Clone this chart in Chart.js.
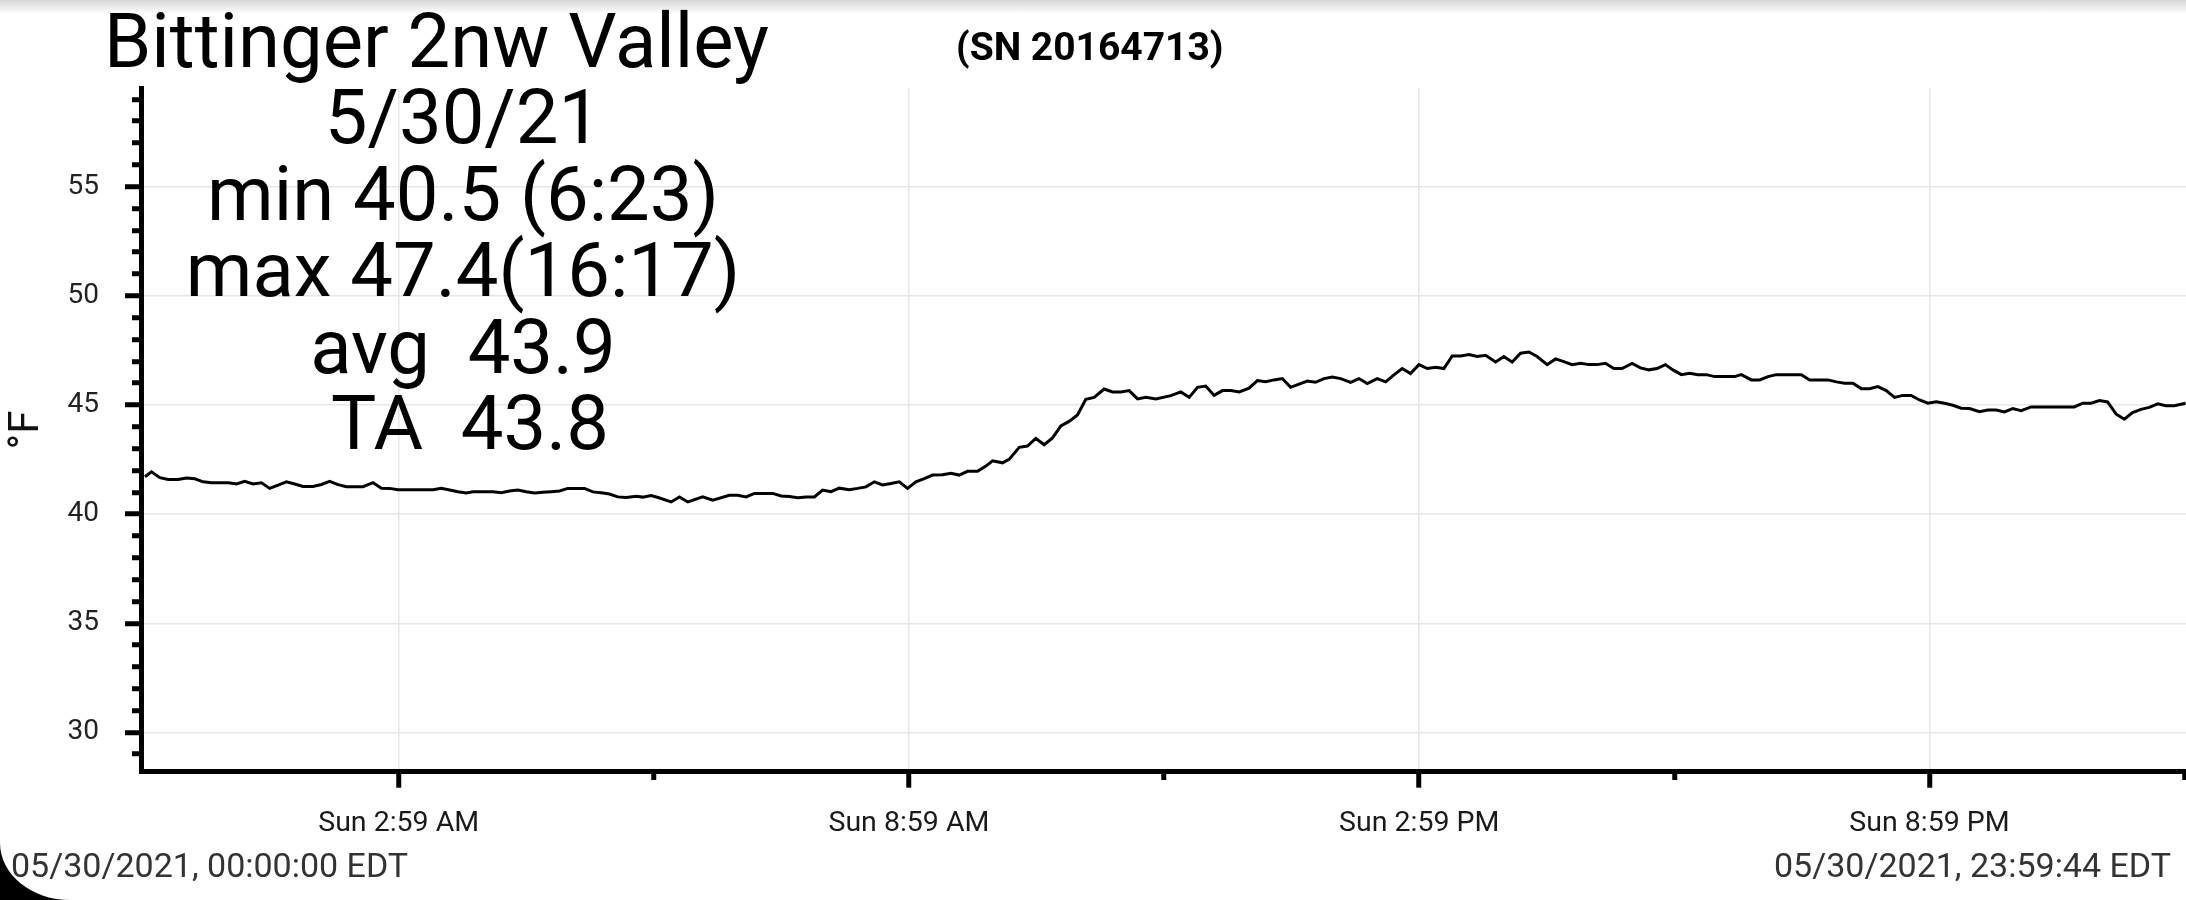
<!DOCTYPE html>
<html>
<head>
<meta charset="utf-8">
<script src="https://cdn.jsdelivr.net/npm/chart.js@4.4.1/dist/chart.umd.min.js"></script>
<style>
  html, body { margin: 0; padding: 0; background: #fff; }
  body { width: 2186px; height: 900px; position: relative; overflow: hidden; font-family: Roboto, sans-serif; }
  #chartId { position: absolute; left: 0; top: 0; }
  .txt { position: absolute; white-space: pre; line-height: 1; color: #000; }
  #title { left: 104px; top: 3px; font-size: 76px; }
  #serial { left: 956px; top: 28px; font-size: 39px; font-weight: 700; }
  #stats { left: 163px; top: 79px; width: 600px; text-align: center; font-size: 76px; line-height: 76.6px; }
  .stamp { top: 848px; font-size: 34px; color: #333; }
  #shade { position: absolute; left: 0; top: 0; width: 100%; height: 14px;
    background: linear-gradient(to bottom, #d6d6d6, rgba(255,255,255,0)); }
  #corner { position: absolute; left: 0; bottom: 0; width: 70px; height: 57px; background: #000; }
  #corner div { width: 100%; height: 100%; background: #fff; border-bottom-left-radius: 70px 57px; }
</style>
</head>
<body>
<canvas id="chartId" width="2186" height="900"></canvas>
<div id="corner"><div></div></div>
<div id="shade"></div>
<div class="txt" id="title">Bittinger 2nw Valley</div>
<div class="txt" id="serial">(SN 20164713)</div>
<div class="txt" id="stats">5/30/21
min 40.5 (6:23)
max 47.4(16:17)
avg  43.9
<span style="padding-left:14px">TA  43.8</span></div>
<div class="txt stamp" style="left:11px">05/30/2021, 00:00:00 EDT</div>
<div class="txt stamp" style="right:15px">05/30/2021, 23:59:44 EDT</div>
<script>
// minutes after midnight, 05/30/2021
const minutes = [0, 4.6, 10.5, 16.4, 23.4, 29.3, 35.2, 41, 47, 58.7,
  64.6, 70.4, 76.3, 82.2, 88, 93.9, 99.8, 105.7, 111.5, 118.6,
  124.5, 130.3, 136.2, 142.1, 153.8, 160.9, 166.8, 172.6, 178.5, 203.2,
  209.1, 215, 220.8, 226.7, 231.4, 245.5, 251.4, 257.2, 263.1, 269,
  274.9, 280.7, 286.6, 292.5, 298.3, 310.1, 316, 321.9, 327.7, 333.6,
  339.5, 346.6, 351.2, 357.1, 362, 371.2, 377.1, 383, 393.5, 400.6,
  412.3, 418.2, 424.1, 430, 442.9, 448.8, 454.6, 460.5, 466.4, 472.3,
  478.1, 484, 489.9, 496.9, 502.8, 508.7, 514.6, 520.4, 526.3, 532.2,
  538, 543.9, 549.8, 555.7, 562.7, 568.6, 574.5, 580.3, 587.4, 593.3,
  598, 605, 609.7, 616.8, 622.6, 628.5, 634.4, 640.3, 646.2, 652,
  657.9, 663.8, 669.7, 676.7, 682.6, 688.5, 694.4, 700.3, 706.2, 713.2,
  723.8, 730.8, 736.7, 742.6, 748.4, 754.3, 760.2, 766.1, 772, 779,
  784.8, 790.7, 796.6, 802.4, 808.3, 814.2, 820.1, 825.9, 831.8, 837.7,
  843.6, 850.6, 856.5, 862.3, 869.4, 875.3, 881.2, 887, 892.9, 898.8,
  904.7, 910.6, 916.4, 922.3, 928.2, 934.1, 939.9, 945.8, 952.9, 958.7,
  964.6, 970.5, 976.4, 982.2, 989.3, 995.2, 1001, 1006.9, 1012.8, 1018.7,
  1024.5, 1030.4, 1036.3, 1042.1, 1049.2, 1055.1, 1061, 1066.8, 1072.7, 1078,
  1084, 1089.8, 1095.7, 1101.6, 1107.4, 1121.5, 1126.3, 1133.3, 1139.2, 1145.1,
  1151, 1168.6, 1174.5, 1187.4, 1193.3, 1199.1, 1205, 1210.9, 1216.7, 1222.6,
  1228.5, 1234.4, 1240.2, 1246.1, 1252, 1257.9, 1263.8, 1269.6, 1275.5, 1281.4,
  1287.3, 1294.3, 1300.2, 1306.1, 1312, 1317.8, 1323.7, 1330.7, 1361.2, 1367.1,
  1373, 1378.9, 1384.7, 1390.6, 1396.5, 1402.3, 1408.2, 1414.1, 1420, 1425.8,
  1431.7, 1439.7];

const tempF = [41.71, 41.94, 41.67, 41.59, 41.59, 41.65, 41.62, 41.48, 41.44, 41.44,
  41.38, 41.50, 41.38, 41.44, 41.18, 41.33, 41.48, 41.38, 41.27, 41.27,
  41.36, 41.50, 41.35, 41.26, 41.26, 41.44, 41.19, 41.18, 41.12, 41.12,
  41.19, 41.11, 41.03, 40.97, 41.03, 41.03, 40.98, 41.06, 41.11, 41.03,
  40.97, 41.00, 41.03, 41.06, 41.18, 41.18, 41.02, 40.98, 40.92, 40.79,
  40.76, 40.82, 40.78, 40.85, 40.76, 40.56, 40.79, 40.56, 40.79, 40.64,
  40.86, 40.86, 40.79, 40.95, 40.95, 40.83, 40.81, 40.75, 40.79, 40.79,
  41.10, 41.03, 41.19, 41.12, 41.18, 41.25, 41.48, 41.34, 41.40, 41.48,
  41.18, 41.48, 41.63, 41.79, 41.80, 41.87, 41.79, 41.96, 41.96, 42.20,
  42.44, 42.35, 42.51, 43.06, 43.12, 43.47, 43.18, 43.49, 44.04, 44.25,
  44.54, 45.26, 45.35, 45.73, 45.60, 45.60, 45.66, 45.28, 45.35, 45.28,
  45.43, 45.60, 45.35, 45.81, 45.87, 45.44, 45.66, 45.66, 45.60, 45.77,
  46.12, 46.07, 46.15, 46.21, 45.81, 45.96, 46.10, 46.04, 46.21, 46.28,
  46.21, 46.04, 46.21, 45.98, 46.21, 46.06, 46.38, 46.67, 46.44, 46.85,
  46.67, 46.73, 46.67, 47.25, 47.25, 47.31, 47.22, 47.28, 46.97, 47.22,
  46.97, 47.37, 47.43, 47.22, 46.85, 47.11, 46.99, 46.85, 46.91, 46.85,
  46.85, 46.91, 46.67, 46.67, 46.90, 46.70, 46.61, 46.67, 46.85, 46.61,
  46.39, 46.45, 46.39, 46.39, 46.30, 46.30, 46.39, 46.15, 46.15, 46.30,
  46.39, 46.39, 46.15, 46.15, 46.06, 46.00, 46.00, 45.75, 45.75, 45.84,
  45.66, 45.35, 45.44, 45.44, 45.23, 45.08, 45.15, 45.08, 44.99, 44.85,
  44.84, 44.69, 44.77, 44.77, 44.68, 44.84, 44.74, 44.91, 44.91, 45.08,
  45.08, 45.20, 45.14, 44.59, 44.35, 44.65, 44.80, 44.89, 45.05, 44.97,
  44.97, 45.08];

const xTickValues = [179, 359, 539, 719, 899, 1079, 1259, 1439];
const xTickLabels = ["Sun 2:59 AM", "", "Sun 8:59 AM", "", "Sun 2:59 PM", "", "Sun 8:59 PM", ""];
const yLabelValues = [30, 35, 40, 45, 50, 55];
const yTickValues = [];
for (let v = 29; v <= 59; v++) yTickValues.push(v);

const isMajorX = (v) => xTickLabels[xTickValues.indexOf(v)] !== "";
const isMajorY = (v) => yLabelValues.includes(v);

const ctx = document.getElementById("chartId");
const chart = new Chart(ctx, {
  type: "line",
  data: {
    datasets: [
      {
        data: minutes.map((m, i) => ({ x: m, y: tempF[i] })),
        borderColor: "#000",
        borderWidth: 3,
        pointRadius: 0,
        tension: 0,
        fill: false,
      },
    ],
  },
  options: {
    animation: false,
    responsive: false,
    devicePixelRatio: 1,
    layout: { padding: { top: 88.5, right: 0, bottom: 0, left: 0 } },
    plugins: { legend: { display: false }, tooltip: { enabled: false } },
    scales: {
      x: {
        type: "linear",
        min: -2.8,
        max: 1440,
        afterBuildTicks: (scale) => {
          scale.ticks = xTickValues.map((v) => ({ value: v }));
        },
        afterFit: (scale) => {
          scale.height = 128.3;
          scale.paddingLeft = 0;
          scale.paddingRight = 0;
        },
        ticks: {
          autoSkip: false,
          maxRotation: 0,
          padding: 19,
          color: "#1a1a1a",
          font: { family: "Roboto", size: 28.5 },
          callback: (v) => xTickLabels[xTickValues.indexOf(v)] || "",
        },
        grid: {
          color: (c) => (c.tick && isMajorX(c.tick.value) ? "#e6e6e6" : "rgba(0,0,0,0)"),
          lineWidth: 1.5,
          tickLength: 16,
          tickWidth: 5,
          tickColor: "#000",
          tickBorderDash: (c) => (c.tick && isMajorX(c.tick.value) ? [] : [6, 30]),
        },
        border: { display: true, color: "#000", width: 5 },
      },
      y: {
        min: 28.2,
        max: 59.5,
        afterBuildTicks: (scale) => {
          scale.ticks = yTickValues.map((v) => ({ value: v }));
        },
        afterFit: (scale) => {
          scale.width = 141;
        },
        ticks: {
          autoSkip: false,
          padding: 26,
          color: "#222",
          font: { family: "Roboto", size: 28 },
          callback: (v) => (isMajorY(v) ? String(v) : ""),
        },
        grid: {
          color: (c) => (c.tick && isMajorY(c.tick.value) ? "#e6e6e6" : "rgba(0,0,0,0)"),
          lineWidth: 1.5,
          tickLength: 16,
          tickWidth: 5,
          tickColor: "#000",
          tickBorderDash: (c) => (c.tick && isMajorY(c.tick.value) ? [] : [7, 7]),
          tickBorderDashOffset: (c) => (c.tick && isMajorY(c.tick.value) ? 0 : 7),
        },
        border: { display: true, color: "#000", width: 5 },
        title: {
          display: true,
          text: "°F",
          color: "#111",
          font: { family: "Roboto", size: 42 },
          padding: { top: 2, bottom: 0 },
        },
      },
    },
  },
});
</script>
</body>
</html>
